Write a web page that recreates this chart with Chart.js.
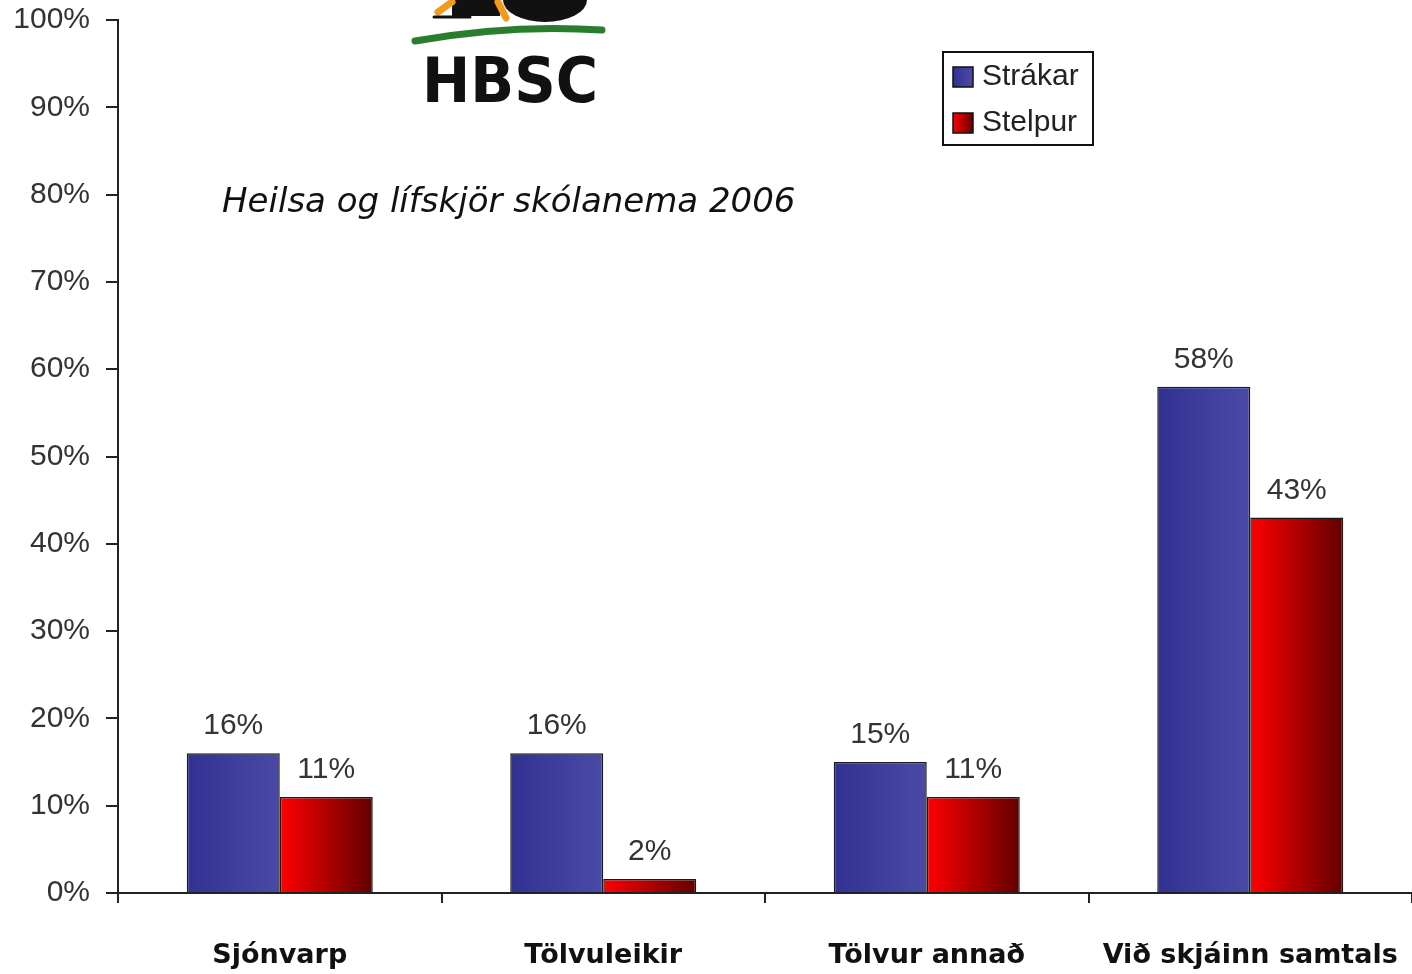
<!DOCTYPE html>
<html lang="is">
<head>
<meta charset="UTF-8">
<title>Heilsa og lífskjör skólanema 2006</title>
<script src="https://cdn.jsdelivr.net/npm/chart.js@4.4.0/dist/chart.umd.min.js"></script>
<style>
  body { margin: 0; background: #fff; }
  #wrap { width: 1412px; height: 974px; }
</style>
</head>
<body>
<div id="wrap"><canvas id="hbsc" width="1412" height="974"></canvas></div>
<script>
// chart data
const categories = ['Sjónvarp', 'Tölvuleikir', 'Tölvur annað', 'Við skjáinn samtals'];
const seriesNames = ['Strákar', 'Stelpur'];
const boys = [16, 16, 15, 58];
const girls = [11, 1.6, 11, 43];
const yTicks = [0, 10, 20, 30, 40, 50, 60, 70, 80, 90, 100];

const CAT_PCT = 0.575;
const blueStops = ['#313192', '#4a4aa6'];
const redStops = ['#ff0000', '#620000'];

function barGradient(ctx) {
  const chart = ctx.chart;
  const xs = chart.scales.x;
  if (!chart.chartArea || !xs) return ctx.datasetIndex === 0 ? blueStops[0] : redStops[0];
  const c = xs.getPixelForValue(ctx.dataIndex);
  const w = xs.width / categories.length * CAT_PCT / 2;
  const left = ctx.datasetIndex === 0 ? c - w : c;
  const stops = ctx.datasetIndex === 0 ? blueStops : redStops;
  const g = chart.ctx.createLinearGradient(left, 0, left + w, 0);
  g.addColorStop(0, stops[0]);
  g.addColorStop(1, stops[1]);
  return g;
}

// drop the extra room Chart.js keeps for overhanging tick labels
function noPadding(s) {
  s.paddingTop = 0; s.paddingBottom = 0; s.paddingLeft = 0; s.paddingRight = 0;
}

// logo, title, legend and value labels
const decorations = {
  id: 'decorations',
  afterDatasetsDraw(chart) {
    const c = chart.ctx;
    // value labels
    c.save();
    c.font = '30px "Liberation Sans", Arial, sans-serif';
    c.fillStyle = '#333';
    c.textAlign = 'center';
    c.textBaseline = 'alphabetic';
    chart.data.datasets.forEach((ds, di) => {
      chart.getDatasetMeta(di).data.forEach((bar, i) => {
        c.fillText(Math.round(ds.data[i]) + '%', bar.x, bar.y - 19);
      });
    });
    c.restore();
  },
  afterDraw(chart) {
    const c = chart.ctx;
    c.save();
    // logo figure (cropped at top)
    c.fillStyle = '#111';
    c.beginPath();
    c.ellipse(545, 0, 42, 22, 0, 0, Math.PI * 2);
    c.fill();
    c.fillRect(452, 0, 48, 16);
    c.strokeStyle = '#f39a1e';
    c.lineWidth = 7;
    c.lineCap = 'round';
    c.beginPath();
    c.moveTo(438, 12); c.lineTo(452, 2);
    c.moveTo(498, 2); c.lineTo(506, 18);
    c.stroke();
    c.strokeStyle = '#111';
    c.lineWidth = 3;
    c.beginPath();
    c.moveTo(434, 17); c.lineTo(470, 17);
    c.stroke();
    // green swoosh
    c.strokeStyle = '#2a7d2e';
    c.lineWidth = 7;
    c.beginPath();
    c.moveTo(415, 41);
    c.quadraticCurveTo(510, 24, 602, 30);
    c.stroke();
    // HBSC
    c.fillStyle = '#111';
    c.font = 'bold 62px "DejaVu Sans", sans-serif';
    c.textAlign = 'center';
    c.textBaseline = 'alphabetic';
    c.fillText('HBSC', 510, 102, 176);
    // title
    c.font = 'italic 34px "DejaVu Sans", sans-serif';
    c.textAlign = 'left';
    c.fillText('Heilsa og lífskjör skólanema 2006', 222, 212, 580);
    // legend
    c.fillStyle = '#fff';
    c.fillRect(943, 52, 150, 93);
    c.strokeStyle = '#111';
    c.lineWidth = 2;
    c.strokeRect(943, 52, 150, 93);
    const stopsList = [blueStops, redStops];
    c.font = '30px "Liberation Sans", Arial, sans-serif';
    c.textBaseline = 'middle';
    seriesNames.forEach((name, i) => {
      const y = 77 + i * 46;
      const g = c.createLinearGradient(953, 0, 973, 0);
      g.addColorStop(0, stopsList[i][0]);
      g.addColorStop(1, stopsList[i][1]);
      c.fillStyle = g;
      c.fillRect(953, y - 10, 20, 20);
      c.lineWidth = 1.5;
      c.strokeRect(953, y - 10, 20, 20);
      c.fillStyle = '#222';
      c.fillText(name, 982, y, 106);
    });
    c.restore();
  }
};

new Chart(document.getElementById('hbsc'), {
  type: 'bar',
  data: {
    labels: categories,
    datasets: [
      { label: seriesNames[0], data: boys, backgroundColor: barGradient, borderColor: '#1a1a1a', borderWidth: 1.5, borderSkipped: 'bottom' },
      { label: seriesNames[1], data: girls, backgroundColor: barGradient, borderColor: '#1a1a1a', borderWidth: 1.5, borderSkipped: 'bottom' }
    ]
  },
  options: {
    responsive: false,
    animation: false,
    layout: { padding: { top: 20, right: 0, left: 0, bottom: 0 } },
    datasets: { bar: { categoryPercentage: CAT_PCT, barPercentage: 1 } },
    plugins: { legend: { display: false }, tooltip: { enabled: false } },
    scales: {
      x: {
        afterFit(s) { s.height = 81; noPadding(s); },
        border: { color: '#222', width: 2 },
        grid: { display: true, drawOnChartArea: false, tickLength: 10, color: '#222', lineWidth: 2, offset: true },
        ticks: { color: '#111', padding: 37, font: { family: '"DejaVu Sans", sans-serif', size: 27, weight: 'bold' }, maxRotation: 0 }
      },
      y: {
        min: 0,
        max: 100,
        afterFit(s) { s.width = 118; noPadding(s); },
        afterBuildTicks(s) { s.ticks = yTicks.map(v => ({ value: v })); },
        border: { color: '#222', width: 2 },
        grid: { display: true, drawOnChartArea: false, tickLength: 12, color: '#222', lineWidth: 2 },
        ticks: {
          color: '#333',
          padding: 16,
          font: { family: '"Liberation Sans", Arial, sans-serif', size: 30 },
          callback: v => v + '%'
        }
      }
    }
  },
  plugins: [decorations]
});
</script>
</body>
</html>
